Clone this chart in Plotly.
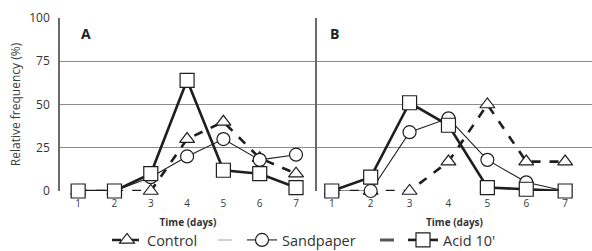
import plotly.graph_objects as go

days = [1, 2, 3, 4, 5, 6, 7]
a_control = [0, 0, 0, 30, 40, 19, 10]
a_sandpaper = [0, 0, 8, 20, 30, 18, 21]
a_acid = [0, 0, 10, 64, 12, 10, 2]
b_control = [0, 0, 0, 17, 50, 17, 17]
b_sandpaper = [0, 0, 34, 42, 18, 5, 0]
b_acid = [0, 8, 51, 38, 2, 1, 0]
y_ticks = [0, 25, 50, 75, 100]
names = ["Control", "Sandpaper", "Acid 10'"]

W, H = 592, 251
INK = "#1e1e1e"
FONT = "Open Sans"
PLOT_H = 173

styles = {
    "Control": dict(line=dict(color=INK, width=2.6, dash="dash"), symbol="triangle-up", size=13, legend="legend"),
    "Sandpaper": dict(line=dict(color=INK, width=1.1), symbol="circle", size=13, legend="legend2"),
    "Acid 10'": dict(line=dict(color=INK, width=2.6), symbol="square", size=14, legend="legend3"),
}

fig = go.Figure()
panels = [("x", "y", [a_control, a_sandpaper, a_acid], True),
          ("x2", "y2", [b_control, b_sandpaper, b_acid], False)]
for xa, ya, series, show in panels:
    for name, vals in zip(names, series):
        st = styles[name]
        fig.add_trace(go.Scatter(
            x=days, y=vals, xaxis=xa, yaxis=ya, name=name, mode="lines+markers",
            line=st["line"], cliponaxis=False, showlegend=show, legend=st["legend"],
            marker=dict(symbol=st["symbol"], size=st["size"], color="white",
                        line=dict(color=INK, width=1.2)),
        ))

grid = "#8c8c8c"
axis_common = dict(showgrid=True, gridcolor=grid, gridwidth=1.2, zeroline=False,
                   showline=True, linecolor="#6a6a6a", linewidth=1.5)
xcommon = dict(tickvals=days, showgrid=False, zeroline=False, showline=False,
               tickfont=dict(size=10, color="#3a3a3a"), ticks="", ticklabelstandoff=5,
               title=dict(text="<b>Time (days)</b>", font=dict(size=10, color="#333"), standoff=9))


def py(pix):
    # pixel row from top of page -> paper y
    return (18 + PLOT_H - pix) / PLOT_H


def leg(text_start):
    return dict(orientation="h", x=(text_start - 40) / W, xanchor="left", y=py(240), yanchor="middle",
                font=dict(size=14.5, color="#333", family=FONT), itemwidth=30,
                bgcolor="rgba(0,0,0,0)")


fig.update_layout(
    width=W, height=H, margin=dict(l=0, r=0, t=18, b=60, autoexpand=False),
    plot_bgcolor="white", paper_bgcolor="white",
    font=dict(family=FONT, color="#333", size=11),
    xaxis=dict(domain=[60 / W, 316 / W], range=[0.5, 7.55], **xcommon),
    xaxis2=dict(domain=[317 / W, 1.0], range=[0.62, 7.69], **xcommon),
    yaxis=dict(range=[0, 100], tickvals=y_ticks, anchor="x", **axis_common,
               tickfont=dict(size=12, color="#333"), ticks="", ticklabelstandoff=6,
               title=dict(text="Relative frequency (%)", font=dict(size=12, color="#3a3a3a"), standoff=6)),
    yaxis2=dict(range=[0, 100], tickvals=y_ticks, anchor="x2", showticklabels=False, **axis_common),
    legend=leg(147),
    legend2=leg(282),
    legend3=leg(443),
    annotations=[
        dict(text="<b>A</b>", x=86 / W, y=py(34), xref="paper", yref="paper",
             xanchor="center", yanchor="middle",
             showarrow=False, font=dict(size=14, color="#222")),
        dict(text="<b>B</b>", x=334 / W, y=py(34), xref="paper", yref="paper",
             xanchor="center", yanchor="middle",
             showarrow=False, font=dict(size=14, color="#222")),
    ],
    shapes=[
        dict(type="line", xref="paper", yref="paper", x0=218 / W, x1=232 / W,
             y0=py(240), y1=py(240), line=dict(color="#cfcfcf", width=2)),
        dict(type="line", xref="paper", yref="paper", x0=380 / W, x1=394 / W,
             y0=py(240), y1=py(240), line=dict(color="#555", width=3)),
    ],
)
fig.write_html("out.html")
